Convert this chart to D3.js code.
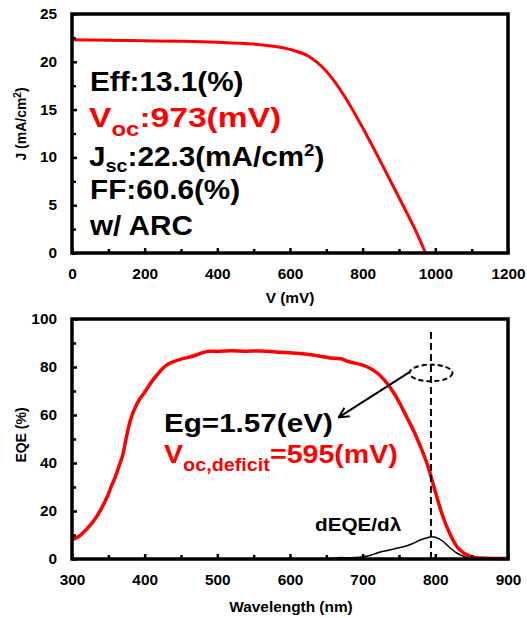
<!DOCTYPE html>
<html>
<head>
<meta charset="utf-8">
<script src="https://cdn.jsdelivr.net/npm/d3@7/dist/d3.min.js"></script>
<style>
  body { margin: 0; background: #fff; }
  svg { display: block; font-family: "Liberation Sans", Arial, sans-serif; font-weight: bold; }
</style>
</head>
<body>
<div id="chart"></div>
<script>
// J-V 曲线 (mV, mA/cm2)
const voltage = [0, 100, 200, 300, 400, 500, 550, 600, 650, 700, 750, 800, 850, 900, 950, 973];
const currentDensity = [22.3, 22.25, 22.2, 22.15, 22.05, 21.85, 21.65, 21.3, 20.6, 19.0, 16.4, 13.1, 9.5, 5.8, 2.0, 0];

// EQE 谱 (nm, %)
const wavelength = [300, 310, 320, 330, 340, 350, 355, 360, 365, 370, 375, 380, 390, 400, 410, 420, 430, 440, 450,
  460, 470, 480, 490, 500, 520, 540, 560, 580, 600, 620, 640, 660, 670, 680, 700, 710, 720, 730, 740, 750,
  760, 770, 780, 790, 800, 810, 820, 830, 840, 850, 860, 880, 900];
const eqe = [8, 9.6, 12.4, 15.9, 20.8, 27, 31, 34.5, 39, 43.5, 51, 57.5, 65, 69.5, 74, 77.8, 80.8, 82.2, 83.3,
  84, 84.9, 86, 86.6, 86.5, 86.8, 86.6, 86.7, 86.3, 85.9, 85.4, 84.6, 83.6, 83.4, 82.3, 80.8, 79.5, 77.5, 74.5, 70.5, 65.5,
  59.5, 53.5, 46.5, 38.5, 28, 18, 10.5, 5, 2.3, 1, 0.4, 0.2, 0.2];

// dEQE/dλ
const dWavelength = [600, 610, 620, 640, 660, 670, 680, 690, 700, 710, 720, 730, 740, 750, 760, 770, 780, 790,
  795, 800, 810, 820, 830, 840, 850, 860, 880, 900];
const dEqe = [0.2, 0.1, 0.1, 0, 0.3, 0.6, 0.5, 0.6, 0.9, 1.5, 2.5, 3.3, 4.0, 4.7, 5.4, 6.6, 8.0, 9.0,
  9.3, 9.1, 7.5, 4.7, 2.4, 1.0, 0.3, 0.1, 0, 0];

// 刻度
const jvXTicks = [0, 200, 400, 600, 800, 1000, 1200];
const jvXMinor = [100, 300, 500, 700, 900, 1100];
const jvYTicks = [0, 5, 10, 15, 20, 25];
const jvYMinor = [2.5, 7.5, 12.5, 17.5, 22.5];
const eqeXTicks = [300, 400, 500, 600, 700, 800, 900];
const eqeXMinor = [350, 450, 550, 650, 750, 850];
const eqeYTicks = [0, 20, 40, 60, 80, 100];
const eqeYMinor = [10, 30, 50, 70, 90];

// 带隙位置标注 (Eg = 1.57 eV)
const egWavelength = 794;
const egLineTop = 95;
const egMark = [794, 77.5];
const arrowFrom = [765, 78];
const arrowTo = [667, 59];

const W = 527, H = 618;
const stretch = 1.1;

const svg = d3.select("#chart").append("svg")
  .attr("width", W).attr("height", H);

// 箭头
svg.append("defs").append("marker")
  .attr("id", "arrow")
  .attr("viewBox", "0 0 12 12")
  .attr("refX", 11).attr("refY", 6)
  .attr("markerWidth", 12).attr("markerHeight", 12)
  .attr("markerUnits", "userSpaceOnUse")
  .attr("orient", "auto")
  .append("path")
  .attr("d", "M1,1 L11,6 L1,11")
  .attr("fill", "none")
  .attr("stroke", "#000")
  .attr("stroke-width", 2);

// 坐标轴 + 边框
function drawFrame(g, x, y, xTicks, xMinor, yTicks, yMinor) {
  const [x0, x1] = x.range();
  const [y0, y1] = y.range();

  const styleAxis = sel => {
    sel.attr("font-family", null).attr("font-size", null);
    sel.select(".domain").remove();
    sel.selectAll("line").attr("stroke", "#000").attr("stroke-width", 2.5);
    sel.selectAll("text")
      .attr("font-size", 14)
      .attr("font-weight", "bold")
      .attr("fill", "#000")
      .attr("transform", `scale(${stretch},1)`);
  };

  g.append("g").attr("transform", `translate(0,${y0})`)
    .call(d3.axisBottom(x).tickValues(xTicks).tickFormat(d3.format("d"))
      .tickSizeInner(-5).tickSizeOuter(0).tickPadding(16))
    .call(styleAxis);
  g.append("g").attr("transform", `translate(0,${y0})`)
    .call(d3.axisBottom(x).tickValues(xMinor).tickSizeInner(-4).tickSizeOuter(0).tickFormat(""))
    .call(styleAxis);
  g.append("g").attr("transform", `translate(${x0},0)`)
    .call(d3.axisLeft(y).tickValues(yTicks).tickFormat(d3.format("d"))
      .tickSizeInner(-5).tickSizeOuter(0).tickPadding(13.6))
    .call(styleAxis);
  g.append("g").attr("transform", `translate(${x0},0)`)
    .call(d3.axisLeft(y).tickValues(yMinor).tickSizeInner(-4).tickSizeOuter(0).tickFormat(""))
    .call(styleAxis);

  g.append("rect")
    .attr("x", x0).attr("y", y1)
    .attr("width", x1 - x0).attr("height", y0 - y1)
    .attr("fill", "none")
    .attr("stroke", "#000")
    .attr("stroke-width", 3.5);
}

// 带横向拉伸的文字
function note(g, x, y, size, color, sx = stretch) {
  return g.append("text")
    .attr("transform", `translate(${x},${y}) scale(${sx},1)`)
    .attr("font-size", size)
    .attr("fill", color);
}

// ---------- 上图：J-V ----------
const jvPanel = svg.append("g");
const xJV = d3.scaleLinear().domain([0, 1200]).range([72, 508]);
const yJV = d3.scaleLinear().domain([0, 25]).range([253, 14]);

jvPanel.append("path")
  .datum(voltage.map((v, i) => [v, currentDensity[i]]))
  .attr("fill", "none")
  .attr("stroke", "#ff0000")
  .attr("stroke-width", 3)
  .attr("d", d3.line().x(d => xJV(d[0])).y(d => yJV(d[1])).curve(d3.curveMonotoneX));

drawFrame(jvPanel, xJV, yJV, jvXTicks, jvXMinor, jvYTicks, jvYMinor);

note(jvPanel, 90, 91, 27, "#000").text("Eff:13.1(%)");
const voc = note(jvPanel, 89, 127, 28, "#ff0000", 1.2);
voc.append("tspan").text("V");
voc.append("tspan").attr("font-size", 20).attr("dy", 9).text("oc");
voc.append("tspan").attr("dy", -9).text(":973(mV)");
const jsc = note(jvPanel, 89, 166, 27, "#000");
jsc.append("tspan").text("J");
jsc.append("tspan").attr("font-size", 18).attr("dy", 6).text("sc");
jsc.append("tspan").attr("dy", -6).text(":22.3(mA/cm");
jsc.append("tspan").attr("font-size", 17).attr("dy", -10).text("2");
jsc.append("tspan").attr("dy", 10).text(")");
note(jvPanel, 90, 199, 27, "#000").text("FF:60.6(%)");
note(jvPanel, 90, 235, 27, "#000").text("w/ ARC");

jvPanel.append("text")
  .attr("transform", `translate(290,303) scale(${stretch},1)`)
  .attr("text-anchor", "middle")
  .attr("font-size", 14)
  .text("V (mV)");

const jLabel = jvPanel.append("text")
  .attr("transform", `translate(26,124) rotate(-90) scale(1,${stretch})`)
  .attr("text-anchor", "middle")
  .attr("font-size", 14);
jLabel.append("tspan").text("J (mA/cm");
jLabel.append("tspan").attr("font-size", 10).attr("dy", -5).text("2");
jLabel.append("tspan").attr("dy", 5).text(")");

// ---------- 下图：EQE ----------
const eqePanel = svg.append("g");
const xEQE = d3.scaleLinear().domain([300, 900]).range([72, 508]);
const yEQE = d3.scaleLinear().domain([0, 100]).range([559, 319]);

eqePanel.append("path")
  .datum(dWavelength.map((w, i) => [w, dEqe[i]]))
  .attr("fill", "none")
  .attr("stroke", "#000")
  .attr("stroke-width", 1.5)
  .attr("d", d3.line().x(d => xEQE(d[0])).y(d => yEQE(d[1])).curve(d3.curveMonotoneX));

eqePanel.append("path")
  .datum(wavelength.map((w, i) => [w, eqe[i]]))
  .attr("fill", "none")
  .attr("stroke", "#ff0000")
  .attr("stroke-width", 3.5)
  .attr("d", d3.line().x(d => xEQE(d[0])).y(d => yEQE(d[1])).curve(d3.curveMonotoneX));

// Eg 虚线
eqePanel.append("line")
  .attr("x1", xEQE(egWavelength)).attr("x2", xEQE(egWavelength))
  .attr("y1", yEQE(0)).attr("y2", yEQE(egLineTop))
  .attr("stroke", "#000")
  .attr("stroke-width", 2)
  .attr("stroke-dasharray", "7,4");

eqePanel.append("ellipse")
  .attr("cx", xEQE(egMark[0])).attr("cy", yEQE(egMark[1]))
  .attr("rx", 21.5).attr("ry", 8.3)
  .attr("fill", "none")
  .attr("stroke", "#000")
  .attr("stroke-width", 2)
  .attr("stroke-dasharray", "5,3");

eqePanel.append("line")
  .attr("x1", xEQE(arrowFrom[0])).attr("y1", yEQE(arrowFrom[1]))
  .attr("x2", xEQE(arrowTo[0])).attr("y2", yEQE(arrowTo[1]))
  .attr("stroke", "#000")
  .attr("stroke-width", 2)
  .attr("marker-end", "url(#arrow)");

drawFrame(eqePanel, xEQE, yEQE, eqeXTicks, eqeXMinor, eqeYTicks, eqeYMinor);

note(eqePanel, 164, 432, 26, "#000", 1.14).text("Eg=1.57(eV)");
const def = note(eqePanel, 164, 463, 26, "#ff0000");
def.append("tspan").text("V");
def.append("tspan").attr("font-size", 18).attr("dy", 8).text("oc,deficit");
def.append("tspan").attr("dy", -8).text("=595(mV)");

note(eqePanel, 315, 531, 18, "#000", 1.15).text("dEQE/dλ");

eqePanel.append("text")
  .attr("transform", `translate(291,612) scale(${stretch},1)`)
  .attr("text-anchor", "middle")
  .attr("font-size", 14)
  .text("Wavelength (nm)");

eqePanel.append("text")
  .attr("transform", `translate(26,435) rotate(-90) scale(1,${stretch})`)
  .attr("text-anchor", "middle")
  .attr("font-size", 14)
  .text("EQE (%)");
</script>
</body>
</html>
